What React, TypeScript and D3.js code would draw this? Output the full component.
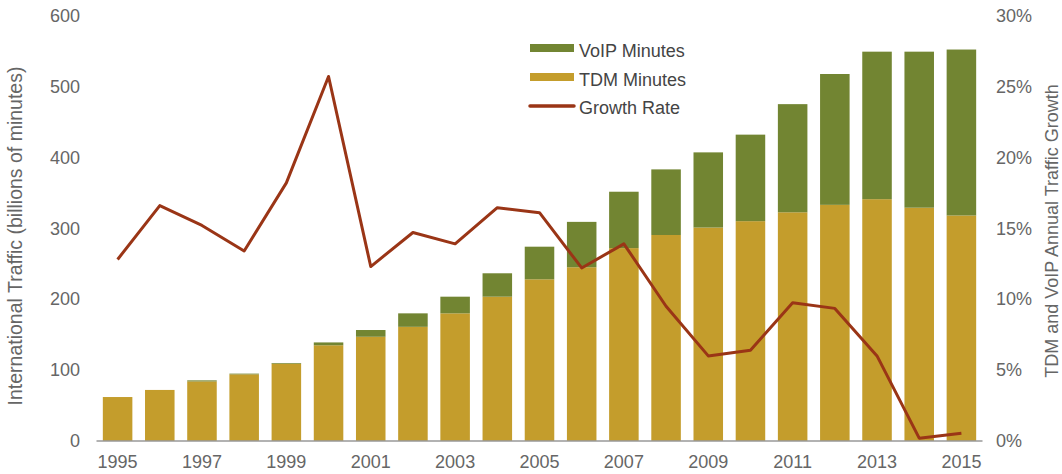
import React from 'react';
import * as d3 from 'd3';

const WIDTH = 1062;
const HEIGHT = 474;

const years = d3.range(1995, 2016).map(String);
const tdmMinutes = [62, 72, 84, 94, 109, 135, 147, 161, 180, 203.5, 228, 245, 272, 290.5, 301, 310, 322.5, 333, 341, 329, 318];
const voipMinutes = [0, 0, 1.5, 1, 1, 4, 9.5, 19, 23.5, 33, 46, 64, 79.5, 92.5, 106, 122, 152.5, 184.5, 208, 220, 234];
const growthRate = [12.8, 16.6, 15.2, 13.4, 18.2, 25.7, 12.3, 14.7, 13.9, 16.45, 16.1, 12.2, 13.9, 9.5, 6.0, 6.4, 9.75, 9.35, 6.0, 0.2, 0.55];
const leftTicks = [0, 100, 200, 300, 400, 500, 600];
const rightTicks = [0, 5, 10, 15, 20, 25, 30];
const xLabels = years.filter((_, i) => i % 2 === 0);

const TDM_COLOR = '#c49d2c';
const VOIP_COLOR = '#728532';
const LINE_COLOR = '#9a3516';
const TEXT_COLOR = '#666';
const FONT = '"Liberation Sans", Arial, sans-serif';

export default function App() {
  const x = d3.scaleBand().domain(years).range([96.5, 982.5]).paddingInner(0.3).paddingOuter(0.15);
  const y = d3.scaleLinear().domain([0, 600]).range([441, 15.5]);
  const yRight = d3.scaleLinear().domain([0, 30]).range([441, 15.5]);

  const line = d3
    .line<number>()
    .x((_, i) => x(years[i])! + x.bandwidth() / 2)
    .y((d) => yRight(d));

  return (
    <svg width={WIDTH} height={HEIGHT} style={{ position: 'absolute', left: 0, top: 0, fontFamily: FONT }}>
      {/* bars */}
      {years.map((yr, i) => (
        <g key={yr}>
          <rect x={x(yr)} y={y(tdmMinutes[i])} width={x.bandwidth()} height={y(0) - y(tdmMinutes[i])} fill={TDM_COLOR} />
          {voipMinutes[i] > 0 && (
            <rect
              x={x(yr)}
              y={y(tdmMinutes[i] + voipMinutes[i])}
              width={x.bandwidth()}
              height={y(tdmMinutes[i]) - y(tdmMinutes[i] + voipMinutes[i])}
              fill={VOIP_COLOR}
            />
          )}
        </g>
      ))}

      {/* baseline */}
      <line x1={96.5} x2={982.5} y1={y(0)} y2={y(0)} stroke="#999" strokeWidth={1.5} />

      {/* growth line */}
      <path d={line(growthRate)!} fill="none" stroke={LINE_COLOR} strokeWidth={3} strokeLinejoin="round" />

      {/* left axis */}
      {leftTicks.map((t) => (
        <text key={t} x={80} y={y(t)} dy="0.35em" textAnchor="end" fontSize={18} fill={TEXT_COLOR}>
          {t}
        </text>
      ))}
      <text
        transform={`translate(15, 236) rotate(-90)`}
        textAnchor="middle"
        dy="0.35em"
        fontSize={19.5}
        fill={TEXT_COLOR}
      >
        International Traffic (billions of minutes)
      </text>

      {/* right axis */}
      {rightTicks.map((t) => (
        <text key={t} x={996} y={yRight(t)} dy="0.35em" textAnchor="start" fontSize={18} fill={TEXT_COLOR}>
          {t}%
        </text>
      ))}
      <text
        transform={`translate(1052, 231) rotate(-90)`}
        textAnchor="middle"
        dy="0.35em"
        fontSize={18}
        fill={TEXT_COLOR}
      >
        TDM and VoIP Annual Traffic Growth
      </text>

      {/* x axis labels */}
      {xLabels.map((yr) => (
        <text key={yr} x={x(yr)! + x.bandwidth() / 2} y={462} dy="0.35em" textAnchor="middle" fontSize={18} fill={TEXT_COLOR}>
          {yr}
        </text>
      ))}

      {/* legend */}
      <g fontSize={18} fill="#444">
        <rect x={530} y={44} width={44} height={8} fill={VOIP_COLOR} />
        <text x={579} y={51} dy="0.35em">VoIP Minutes</text>
        <rect x={530} y={73} width={44} height={8} fill={TDM_COLOR} />
        <text x={579} y={80} dy="0.35em">TDM Minutes</text>
        <line x1={530} x2={574} y1={106} y2={106} stroke={LINE_COLOR} strokeWidth={3.5} strokeLinecap="round" />
        <text x={579} y={108} dy="0.35em">Growth Rate</text>
      </g>
    </svg>
  );
}
